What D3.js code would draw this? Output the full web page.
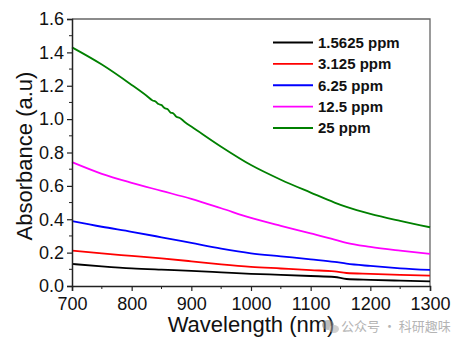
<!DOCTYPE html>
<html>
<head>
<meta charset="utf-8">
<script src="https://cdn.jsdelivr.net/npm/d3@7"></script>
<style>
  body { margin: 0; background: #fff; }
  svg { display: block; font-family: Arial, "Liberation Sans", sans-serif; }
</style>
</head>
<body>
<script>
// wavelength grid (nm) shared by most series
const wavelengths = [700, 750, 800, 850, 900, 950, 1000, 1050, 1100, 1140, 1160, 1200, 1250, 1300];
const black = [0.132, 0.118, 0.106, 0.098, 0.091, 0.082, 0.073, 0.067, 0.060, 0.054, 0.042, 0.037, 0.032, 0.028];
const red = [0.212, 0.195, 0.180, 0.165, 0.148, 0.130, 0.115, 0.105, 0.095, 0.088, 0.078, 0.073, 0.067, 0.062];
const blue = [0.389, 0.355, 0.325, 0.292, 0.258, 0.224, 0.196, 0.178, 0.160, 0.145, 0.134, 0.120, 0.106, 0.096];
const magenta = [0.742, 0.672, 0.618, 0.570, 0.522, 0.466, 0.408, 0.360, 0.315, 0.278, 0.258, 0.234, 0.212, 0.193];
// green has a noisy stretch around 830-890 nm
const greenWl = [700, 750, 800, 825, 835, 840, 845, 850, 855, 860, 865, 870, 875, 880, 890, 900, 950, 1000, 1050, 1100, 1140, 1160, 1200, 1250, 1300];
const green = [1.430, 1.327, 1.205, 1.140, 1.112, 1.106, 1.090, 1.084, 1.066, 1.060, 1.040, 1.034, 1.014, 1.008, 0.980, 0.956, 0.835, 0.725, 0.637, 0.560, 0.500, 0.474, 0.432, 0.390, 0.352];

const labels = ["1.5625 ppm", "3.125 ppm", "6.25 ppm", "12.5 ppm", "25 ppm"];
const colors = ["#000000", "#ff0000", "#0000ff", "#ff00ff", "#008000"];

const xTicks = [700, 800, 900, 1000, 1100, 1200, 1300];
const xMinor = [750, 850, 950, 1050, 1150, 1250];
const yTicks = [0, 0.2, 0.4, 0.6, 0.8, 1.0, 1.2, 1.4, 1.6];
const yMinor = [0.1, 0.3, 0.5, 0.7, 0.9, 1.1, 1.3, 1.5];

const svgWidth = 458;
const svgHeight = 345;
const margin = {top: 19, right: 28, bottom: 59, left: 72};
const chartWidth = svgWidth - margin.left - margin.right;
const chartHeight = svgHeight - margin.top - margin.bottom;

const series = [
  {label: labels[0], color: colors[0], pts: wavelengths.map((w, i) => [w, black[i]])},
  {label: labels[1], color: colors[1], pts: wavelengths.map((w, i) => [w, red[i]])},
  {label: labels[2], color: colors[2], pts: wavelengths.map((w, i) => [w, blue[i]])},
  {label: labels[3], color: colors[3], pts: wavelengths.map((w, i) => [w, magenta[i]])},
  {label: labels[4], color: colors[4], pts: greenWl.map((w, i) => [w, green[i]])}
];

const svg = d3.select("body").append("svg")
  .attr("width", svgWidth)
  .attr("height", svgHeight);

const g = svg.append("g")
  .attr("transform", `translate(${margin.left},${margin.top})`);

const scaleX = d3.scaleLinear().domain([700, 1300]).range([0, chartWidth]);
const scaleY = d3.scaleLinear().domain([0, 1.6]).range([chartHeight, 0]);

// frame (top + right)
g.append("path")
  .attr("d", `M0,0H${chartWidth}V${chartHeight}`)
  .attr("fill", "none")
  .attr("stroke", "#666")
  .attr("stroke-width", 1.3);

// lines
const line = d3.line()
  .x(d => scaleX(d[0]))
  .y(d => scaleY(d[1]))
  .curve(d3.curveMonotoneX);

g.selectAll(".series")
  .data(series)
  .join("path")
  .attr("class", "series")
  .attr("d", d => line(d.pts))
  .attr("fill", "none")
  .attr("stroke", d => d.color)
  .attr("stroke-width", 1.8);

// axes
const xAxis = g.append("g")
  .attr("transform", `translate(0,${chartHeight})`)
  .call(d3.axisBottom(scaleX).tickValues(xTicks).tickFormat(d3.format("d")).tickSize(5).tickPadding(6));
xAxis.append("g")
  .selectAll("line")
  .data(xMinor)
  .join("line")
  .attr("x1", d => scaleX(d)).attr("x2", d => scaleX(d))
  .attr("y1", 0).attr("y2", 3)
  .attr("stroke", "#222");

const yAxis = g.append("g")
  .call(d3.axisLeft(scaleY).tickValues(yTicks).tickFormat(d3.format(".1f")).tickSize(5).tickPadding(3));
yAxis.append("g")
  .selectAll("line")
  .data(yMinor)
  .join("line")
  .attr("y1", d => scaleY(d)).attr("y2", d => scaleY(d))
  .attr("x1", 0).attr("x2", -3)
  .attr("stroke", "#222");

[xAxis, yAxis].forEach(a => {
  a.select(".domain").attr("stroke", "#222").attr("stroke-width", 1.5);
  a.selectAll(".tick line").attr("stroke", "#222").attr("stroke-width", 1.2);
  a.selectAll(".tick text")
    .attr("fill", "#111")
    .style("font-size", "18px")
    .style("font-family", "Arial, 'Liberation Sans', sans-serif");
});

// axis titles
svg.append("text")
  .attr("x", margin.left + chartWidth / 2)
  .attr("y", 332)
  .attr("text-anchor", "middle")
  .style("font-size", "22px")
  .attr("fill", "#111")
  .text("Wavelength (nm)");

svg.append("text")
  .attr("transform", "translate(32,156) rotate(-90)")
  .attr("text-anchor", "middle")
  .style("font-size", "22px")
  .attr("fill", "#111")
  .text("Absorbance (a.u)");

// legend
const legend = svg.append("g");
const rowY = d3.scalePoint().domain(labels).range([42.5, 128]);
const rows = legend.selectAll("g")
  .data(series)
  .join("g")
  .attr("transform", d => `translate(273,${rowY(d.label)})`);
rows.append("line")
  .attr("x1", 0).attr("x2", 40)
  .attr("stroke", d => d.color)
  .attr("stroke-width", 1.8);
rows.append("text")
  .attr("x", 45)
  .attr("dy", "0.35em")
  .style("font-size", "15px")
  .style("font-weight", "bold")
  .attr("fill", "#111")
  .text(d => d.label);

// watermark
const wm = svg.append("g").attr("opacity", 0.55);
wm.append("ellipse").attr("cx", 328).attr("cy", 325).attr("rx", 6).attr("ry", 5).attr("fill", "#888");
wm.append("ellipse").attr("cx", 334).attr("cy", 329).attr("rx", 5).attr("ry", 4).attr("fill", "#aaa");
wm.append("text")
  .attr("x", 341)
  .attr("y", 331)
  .style("font-size", "13px")
  .style("font-family", "'Noto Sans CJK SC', sans-serif")
  .attr("fill", "#777")
  .text("公众号 · 科研趣味");
</script>
</body>
</html>
